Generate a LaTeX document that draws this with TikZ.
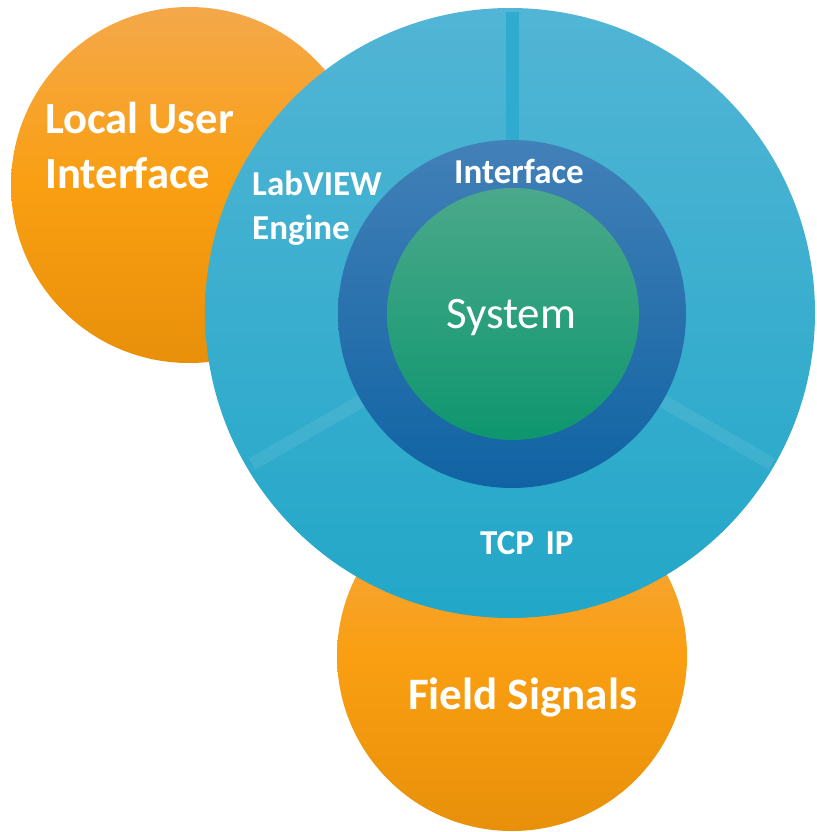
\documentclass[tikz,border=0pt]{standalone}
\usepackage{fontspec}
\setmainfont{Carlito}

\definecolor{OrTop}{HTML}{F4A84A}
\definecolor{OrMid}{HTML}{FA9F12}
\definecolor{OrBot}{HTML}{E8900A}
\definecolor{SkyTop}{HTML}{52B5D5}
\definecolor{SkyBot}{HTML}{22A7C8}
\definecolor{SkySpoke}{HTML}{2FABD0}
\definecolor{NavyTop}{HTML}{4280B8}
\definecolor{NavyBot}{HTML}{1063A3}
\definecolor{GrnTop}{HTML}{4BA98A}
\definecolor{GrnBot}{HTML}{0E966F}

\tikzset{
  orangedisc/.style={top color=OrTop, bottom color=OrBot, middle color=OrMid},
  lbl/.style={text=white, inner sep=0pt, align=left, anchor=base west},
}

\begin{document}
\begin{tikzpicture}[x=1pt, y=-1pt]
    \useasboundingbox (0, 0) rectangle (816, 832);
    % outer discs
    \shade[orangedisc] (189, 185) circle (178);
    \shade[orangedisc] (512, 656) circle (175);
    % engine ring
    \shade[top color=SkyTop, bottom color=SkyBot] (510, 313) circle (305);
    \begin{scope}[shift={(512, 314)}]
      \draw[SkySpoke, line width=13] (270:172) -- (270:302);
      \draw[white, opacity=.08, line width=13] (150:172) -- (150:300);
      \draw[white, opacity=.08, line width=13] (30:172) -- (30:300);
    \end{scope}
    % interface and system
    \shade[top color=NavyTop, bottom color=NavyBot] (512, 314) circle (174);
    \shade[top color=GrnTop, bottom color=GrnBot] (513, 314) circle (126);
    % labels
    \node[lbl, font=\bfseries\fontsize{44.6}{55}\selectfont] (local) at (45, 188) {Local User\\Interface};
    \node[lbl, font=\bfseries\fontsize{35}{44}\selectfont] (engine) at (252, 239) {LabVIEW\\Engine};
    \node[lbl, font=\bfseries\fontsize{35}{44}\selectfont] (iface) at (454, 183) {Interface};
    \node[lbl, font=\fontsize{45}{50}\selectfont] (system) at (446, 328) {System};
    \node[lbl, font=\bfseries\fontsize{35}{44}\selectfont] (tcp) at (480, 554) {TCP\,\,IP};
    \node[lbl, font=\bfseries\fontsize{45}{50}\selectfont] (field) at (408, 709) {Field Signals};
\end{tikzpicture}
\end{document}
